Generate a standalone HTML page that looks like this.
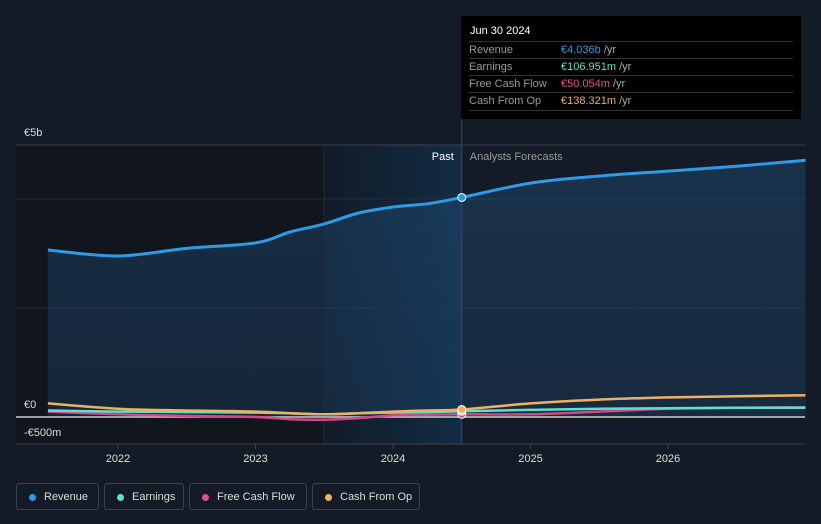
<!DOCTYPE html>
<html><head><meta charset="utf-8"><style>
body{margin:0;background:#151b26;font-family:"Liberation Sans",sans-serif;}
#wrap{position:relative;width:821px;height:524px;overflow:hidden;background:#151b26;}
.tt{position:absolute;left:461px;top:16px;width:340px;height:103px;background:#000;color:#fff;font-size:11px;}
.tt .h{position:absolute;left:9px;top:9px;font-size:11px;}
.tt .r{position:absolute;left:8px;width:324px;border-top:1px solid #333;height:17px;line-height:17px;color:#999;}
.tt .r span{position:absolute;left:92px;}
.tt .r i{font-style:normal;color:#aaa}
.leg{position:absolute;top:483px;height:27px;border:1px solid #3a4150;border-radius:3px;color:#ddd;font-size:11px;line-height:27px;box-sizing:border-box;padding-left:27px;}
.leg b{position:absolute;left:12px;top:10px;width:7px;height:7px;border-radius:50%;}
</style></head><body><div id="wrap">
<svg id="svg" width="821" height="524" style="position:absolute;left:0;top:0"></svg>
<div class="tt">
<div class="h">Jun 30 2024</div>
<div class="r" style="top:25px">Revenue<span style="color:#2d9be6">€4.036b <i>/yr</i></span></div>
<div class="r" style="top:42px">Earnings<span style="color:#5fe0c8">€106.951m <i>/yr</i></span></div>
<div class="r" style="top:59px">Free Cash Flow<span style="color:#e0508f">€50.054m <i>/yr</i></span></div>
<div class="r" style="top:76px;border-bottom:1px solid #333">Cash From Op<span style="color:#f0b060">€138.321m <i>/yr</i></span></div>
</div>
<div class="leg" style="left:16px;width:83px"><b style="background:#2d9be6"></b>Revenue</div>
<div class="leg" style="left:104px;width:80px"><b style="background:#5fe0c8"></b>Earnings</div>
<div class="leg" style="left:189px;width:118px"><b style="background:#e0508f"></b>Free Cash Flow</div>
<div class="leg" style="left:312px;width:108px"><b style="background:#f0b060"></b>Cash From Op</div>
</div>
<script>
const times=[2021.49,2022,2022.5,2023,2023.25,2023.5,2023.75,2024,2024.25,2024.5,2025,2025.5,2026,2026.5,2027];
const revenue=[3.07,2.96,3.1,3.2,3.4,3.55,3.75,3.86,3.92,4.036,4.3,4.43,4.52,4.61,4.72];
const earnings=[0.12,0.1,0.09,0.08,0.07,0.05,0.07,0.08,0.09,0.107,0.13,0.15,0.16,0.17,0.17];
const fcf=[0.1,0.05,0.02,0.0,-0.04,-0.05,-0.02,0.03,0.04,0.05,0.05,0.1,0.15,0.17,0.18];
const cfo=[0.25,0.15,0.12,0.1,0.07,0.05,0.07,0.1,0.12,0.138,0.25,0.32,0.36,0.38,0.4];
const xTicks=[2022,2023,2024,2025,2026];
const yTicks=[{v:5,l:"€5b"},{v:0,l:"€0"},{v:-0.5,l:"-€500m"}];
const X=t=>118+(t-2022)*137.5, Y=v=>417-v*54.4;
const svg=document.getElementById('svg'),NS='http://www.w3.org/2000/svg';
function mk(tag,a,name,txt){const e=document.createElementNS(NS,tag);for(const k in a)e.setAttribute(k,a[k]);


if(txt)e.textContent=txt;svg.appendChild(e);return e;}
const nowX=X(2024.5);
mk('rect',{x:16,y:145,width:X(2023.5)-16,height:299,fill:'#11151d'},'past-bg');
const d=mk('defs',{},'defs');d.innerHTML='<linearGradient id="g" x1="0" x2="1"><stop offset="0" stop-color="#111b27"/><stop offset="1" stop-color="#132c44"/></linearGradient><linearGradient id="fa" x1="0" y1="0" x2="0" y2="1"><stop offset="0" stop-color="#1f4d78" stop-opacity="0.45"/><stop offset="1" stop-color="#1f4d78" stop-opacity="0.3"/></linearGradient>';
mk('rect',{x:X(2023.5),y:145,width:nowX-X(2023.5),height:299,fill:'url(#g)'},'highlight-bg');
mk('line',{x1:16,x2:805,y1:145,y2:145,stroke:'#3a4150'},'grid-top');
[199,308].forEach(y=>mk('line',{x1:16,x2:805,y1:y,y2:y,stroke:'#262d3a'},'gridline'));
function path(arr){const p=arr.map((v,i)=>[X(times[i]),Y(v)]);let s='M'+p[0][0].toFixed(1)+','+p[0][1].toFixed(1);
for(let i=0;i<p.length-1;i++){const p0=p[i-1]||p[i],p1=p[i],p2=p[i+1],p3=p[i+2]||p2;
const c1=[p1[0]+(p2[0]-p0[0])/6,p1[1]+(p2[1]-p0[1])/6],c2=[p2[0]-(p3[0]-p1[0])/6,p2[1]-(p3[1]-p1[1])/6];
s+='C'+c1.map(v=>v.toFixed(1))+' '+c2.map(v=>v.toFixed(1))+' '+p2.map(v=>v.toFixed(1));}return s;}
mk('path',{d:path(revenue)+'L'+X(times[times.length-1])+','+Y(0)+'L'+X(times[0])+','+Y(0)+'Z',fill:'url(#fa)'},'revenue-area');
mk('line',{x1:nowX,x2:nowX,y1:16,y2:444,stroke:'#2e4a66'},'now-line');
mk('line',{x1:X(2023.5),x2:X(2023.5),y1:145,y2:444,stroke:'#202d3c'},'highlight-edge');
mk('line',{x1:16,x2:805,y1:417,y2:417,stroke:'#ccc','stroke-width':1.5},'zero-line');
mk('line',{x1:16,x2:805,y1:444,y2:444,stroke:'#3a4150'},'x-axis');
[[fcf,'#d0478a','fcf'],[earnings,'#5fe0c8','earnings'],[cfo,'#f0b060','cfo'],[revenue,'#2d9be6','revenue']].forEach(([a,c,n])=>{
mk('path',{d:path(a),fill:'none',stroke:c,'stroke-width':n=='revenue'?3:2.5},n+'-line');
const i=times.indexOf(2024.5);mk('circle',{cx:X(2024.5),cy:Y(a[i]),r:4,fill:c,stroke:'#fff','stroke-width':1},n+'-marker');});
yTicks.forEach(t=>mk('text',{x:24,y:t.v<0?436:Y(t.v)-9,fill:'#ddd','font-size':11},'y-tick-label',t.l));
xTicks.forEach(t=>{mk('line',{x1:X(t),x2:X(t),y1:444,y2:449,stroke:'#3a4150'},'x-tick');
mk('text',{x:X(t),y:462,fill:'#ddd','font-size':11,'text-anchor':'middle'},'x-tick-label',String(t));});
mk('text',{x:nowX-8,y:160,fill:'#fff','font-size':11,'text-anchor':'end'},'past-label','Past');
mk('text',{x:nowX+8,y:160,fill:'#999','font-size':11},'forecast-label','Analysts Forecasts');
</script></body></html>
